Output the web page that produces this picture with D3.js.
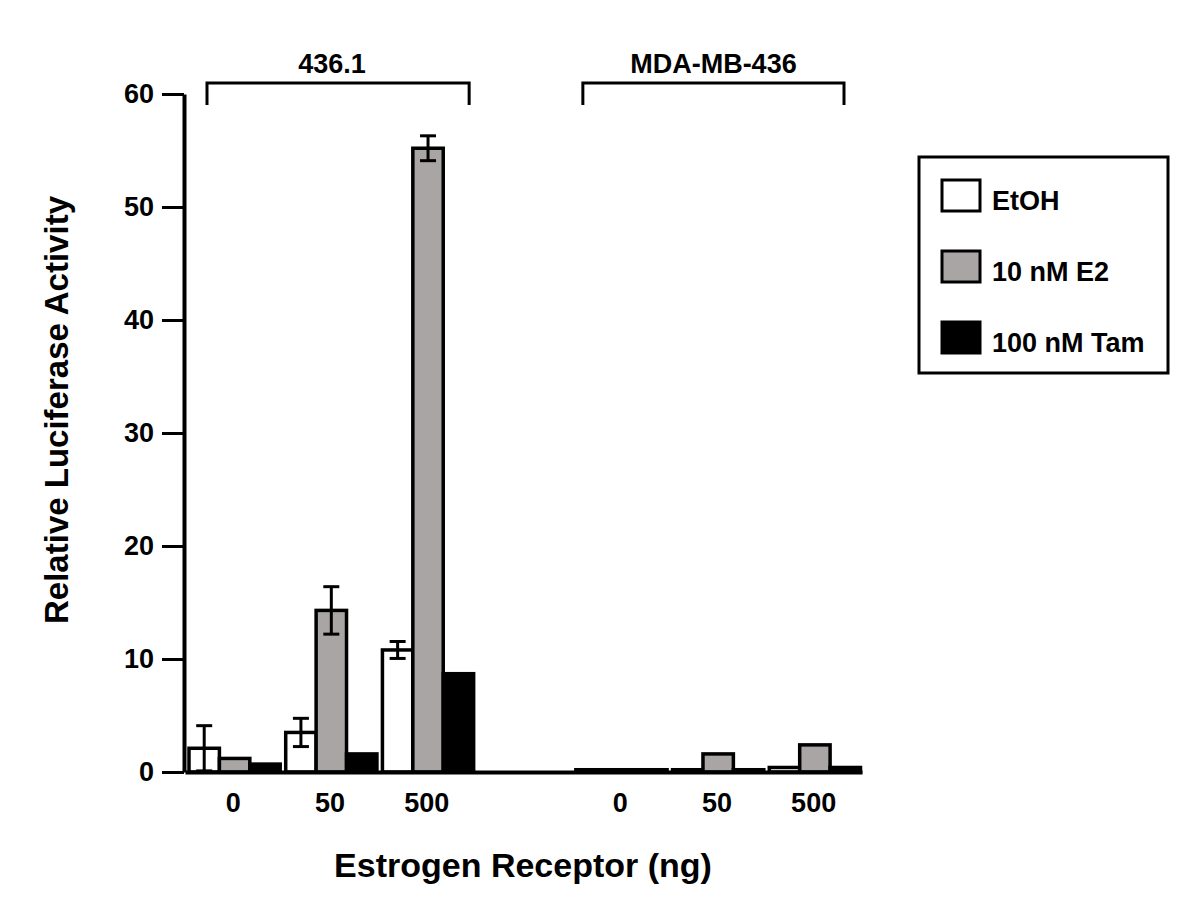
<!DOCTYPE html>
<html>
<head>
<meta charset="utf-8">
<script src="https://cdn.jsdelivr.net/npm/d3@7"></script>
<style>
  body { margin: 0; background: #fff; }
  svg text { font-family: "Liberation Sans", Arial, Helvetica, sans-serif; font-weight: bold; fill: #000; }
</style>
</head>
<body>
<div id="chart"></div>
<script>
// data
var cellLines = ["436.1", "MDA-MB-436"];
var doses = ["0", "50", "500"];
var treatments = ["EtOH", "10 nM E2", "100 nM Tam"];
var treatmentColors = ["#ffffff", "#aaa5a5", "#000000"];

// one value per (cell line, dose): 436.1 0/50/500, MDA-MB-436 0/50/500
var etohValues = [2.1, 3.5, 10.8, 0.2, 0.2, 0.4];
var e2Values   = [1.2, 14.3, 55.2, 0.2, 1.6, 2.4];
var tamValues  = [0.7, 1.6, 8.7, 0.2, 0.2, 0.4];

var etohErrors = [2.0, 1.25, 0.75, 0, 0, 0];
var e2Errors   = [0, 2.1, 1.1, 0, 0, 0];
var tamErrors  = [0, 0, 0, 0, 0, 0];

var yTicks = [0, 10, 20, 30, 40, 50, 60];

var seriesValues = [etohValues, e2Values, tamValues];
var seriesErrors = [etohErrors, e2Errors, tamErrors];

// slots along x: three doses, an empty slot, three doses
var slots = [];
cellLines.forEach(function (c, ci) {
  if (ci > 0) slots.push("gap");
  doses.forEach(function (d) { slots.push(c + "|" + d); });
});

var rows = [];
cellLines.forEach(function (c, ci) {
  doses.forEach(function (d, di) {
    var k = ci * doses.length + di;
    treatments.forEach(function (t, ti) {
      rows.push({ slot: c + "|" + d, treatment: t, ti: ti,
                  value: seriesValues[ti][k], err: seriesErrors[ti][k] });
    });
  });
});

var width = 1198, height = 919;
var svg = d3.select("#chart").append("svg")
  .attr("width", width)
  .attr("height", height);

var x = d3.scaleBand()
  .domain(slots)
  .range([185, 862]);

var inner = d3.scaleBand()
  .domain(treatments)
  .range([4, x.bandwidth() - 1.5]);

var y = d3.scaleLinear()
  .domain([0, 60])
  .range([772, 94]);

// bars
svg.append("g").selectAll("rect")
  .data(rows).enter()
  .append("rect")
  .attr("x", function (d) { return x(d.slot) + inner(d.treatment); })
  .attr("y", function (d) { return y(d.value); })
  .attr("width", inner.bandwidth())
  .attr("height", function (d) { return y(0) - y(d.value); })
  .attr("fill", function (d) { return treatmentColors[d.ti]; })
  .attr("stroke", "#000")
  .attr("stroke-width", 3.5);

// error bars
var eb = svg.append("g").selectAll("g")
  .data(rows.filter(function (d) { return d.err > 0; })).enter()
  .append("g")
  .attr("stroke", "#000")
  .attr("stroke-width", 3);

function cx(d) { return x(d.slot) + inner(d.treatment) + inner.bandwidth() / 2; }

eb.append("line")
  .attr("x1", cx).attr("x2", cx)
  .attr("y1", function (d) { return y(d.value - d.err); })
  .attr("y2", function (d) { return y(d.value + d.err); });
eb.selectAll(".cap")
  .data(function (d) { return [d.value - d.err, d.value + d.err].map(function (v) { return { d: d, v: v }; }); })
  .enter().append("line")
  .attr("class", "cap")
  .attr("x1", function (e) { return cx(e.d) - 8; })
  .attr("x2", function (e) { return cx(e.d) + 8; })
  .attr("y1", function (e) { return y(e.v); })
  .attr("y2", function (e) { return y(e.v); });

// y axis
var yAxis = d3.axisLeft(y)
  .tickValues(yTicks)
  .tickSize(22)
  .tickSizeOuter(0)
  .tickPadding(8);

var yg = svg.append("g")
  .attr("transform", "translate(184,0)")
  .call(yAxis);
yg.select(".domain").attr("stroke-width", 4);
yg.selectAll(".tick line").attr("stroke-width", 3);
yg.selectAll(".tick text").style("font-size", "27px");

// x axis
var xAxis = d3.axisBottom(x)
  .tickSize(0)
  .tickPadding(21)
  .tickFormat(function (s) { return s === "gap" ? "" : s.split("|")[1]; });

var xg = svg.append("g")
  .attr("transform", "translate(0,772)")
  .call(xAxis);
xg.select(".domain").attr("stroke-width", 4);
xg.selectAll(".tick text").style("font-size", "27px");

// cell line brackets
var bracketInsets = [[22, 6], [11, 18]];
var labelShift = [-6, 0];
cellLines.forEach(function (c, ci) {
  var first = x(c + "|" + doses[0]);
  var last = x(c + "|" + doses[doses.length - 1]) + x.bandwidth();
  var x1 = first + bracketInsets[ci][0];
  var x2 = last - bracketInsets[ci][1];
  svg.append("path")
    .attr("d", "M" + x1 + ",105V83H" + x2 + "V105")
    .attr("fill", "none")
    .attr("stroke", "#000")
    .attr("stroke-width", 3);
  svg.append("text")
    .attr("x", (x1 + x2) / 2 + labelShift[ci])
    .attr("y", 73)
    .attr("text-anchor", "middle")
    .style("font-size", "27px")
    .text(c);
});

// axis titles
svg.append("text")
  .attr("transform", "translate(68,410) rotate(-90)")
  .attr("text-anchor", "middle")
  .style("font-size", "33px")
  .text("Relative Luciferase Activity");

svg.append("text")
  .attr("x", 523)
  .attr("y", 877)
  .attr("text-anchor", "middle")
  .style("font-size", "34px")
  .text("Estrogen Receptor (ng)");

// legend
var legend = svg.append("g");
legend.append("rect")
  .attr("x", 919).attr("y", 157)
  .attr("width", 249).attr("height", 216)
  .attr("fill", "none")
  .attr("stroke", "#000")
  .attr("stroke-width", 3);

var items = legend.selectAll(".item")
  .data(treatments).enter()
  .append("g")
  .attr("class", "item")
  .attr("transform", function (d, i) { return "translate(942," + (180 + i * 71) + ")"; });
items.append("rect")
  .attr("width", 38).attr("height", 31)
  .attr("fill", function (d, i) { return treatmentColors[i]; })
  .attr("stroke", "#000")
  .attr("stroke-width", 3);
items.append("text")
  .attr("x", 50)
  .attr("y", 30)
  .style("font-size", "27px")
  .text(function (d) { return d; });
</script>
</body>
</html>
